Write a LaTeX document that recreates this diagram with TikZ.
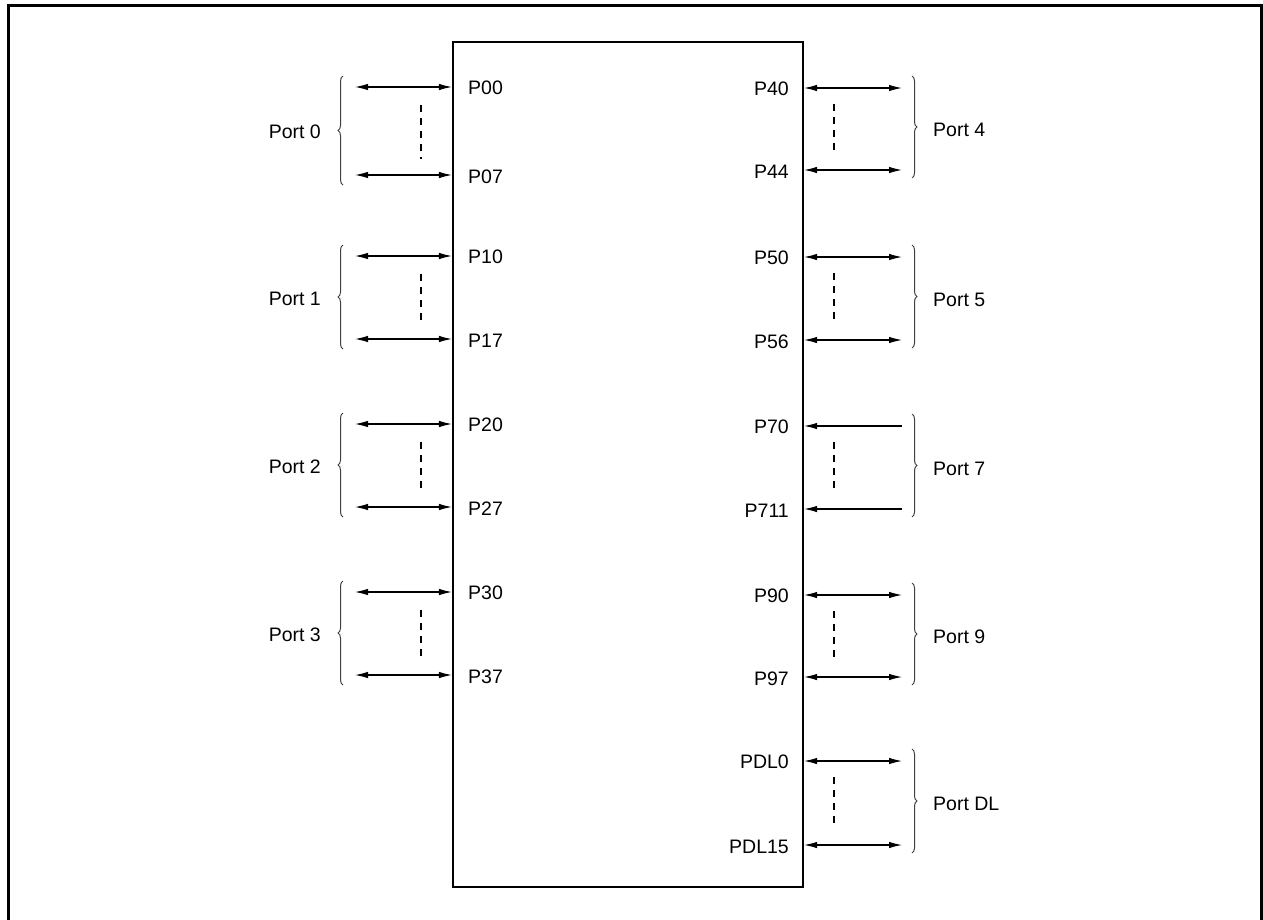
\documentclass[tikz,border=0pt]{standalone}
\usepackage{fontspec}
\setmainfont{Liberation Sans}
\usetikzlibrary{arrows.meta,decorations.pathreplacing}
\begin{document}
\begin{tikzpicture}[x=1pt,y=-1pt,
  pinlabel/.style={font=\fontsize{19.5}{22}\selectfont, inner sep=0pt},
  portlabel/.style={font=\fontsize{19.5}{22}\selectfont, inner sep=0pt},
  biarrow/.style={line width=1.1pt, {Latex[length=13pt,width=6.5pt]}-{Latex[length=13pt,width=6.5pt]}},
  inarrow/.style={line width=1.1pt, -{Latex[length=13pt,width=6.5pt]}},
  dashline/.style={line width=1.1pt, dash pattern=on 7pt off 6pt},
  bracedeco/.style={draw=black!75, line width=1pt, decorate, decoration={brace, amplitude=5pt}},
  frameline/.style={line width=3pt},
  chipbox/.style={draw, line width=2.2pt, minimum width=350pt, minimum height=845pt, inner sep=0pt}]
\useasboundingbox (0,0) rectangle (1263,919);
% outer frame (bottom edge outside the picture)
\draw[frameline] (8.5,930) -- (8.5,5.5) -- (1261.5,5.5) -- (1261.5,930);
% chip
\node[chipbox] (chip) at (628,464.5) {};
% left ports
\foreach \n/\a/\b/\ta/\tb/\lab in {L0/87/175/P00/P07/Port 0, L1/256/339/P10/P17/Port 1, L2/424/507/P20/P27/Port 2, L3/592/675/P30/P37/Port 3}{
  \coordinate (\n oa) at (355,\a);
  \coordinate (\n ob) at (355,\b);
  \coordinate (\n ia) at (chip.west |- {(0,\a)});
  \coordinate (\n ib) at (chip.west |- {(0,\b)});
  \node[pinlabel, anchor=west] (\n ta) at (468,\a+1) {\ta};
  \node[pinlabel, anchor=west] (\n tb) at (468,\b+2) {\tb};
  \draw[biarrow] (\n oa) -- (\n ia);
  \draw[biarrow] (\n ob) -- (\n ib);
  \coordinate (\n da) at (421,\a+18);
  \coordinate (\n db) at (421,\b-16);
  \draw[dashline] (\n da) -- (\n db);
  \coordinate (\n bt) at (343,\a-11);
  \coordinate (\n bb) at (343,\b+10);
  \draw[bracedeco] (\n bb) -- (\n bt);
  \node[portlabel, anchor=east] (\n pl) at (321,{(\a+\b)/2+1}) {\lab};
}
% right ports (bidirectional)
\foreach \n/\a/\b/\ta/\tb/\lab in {R4/88/170/P40/P44/Port 4, R5/257/340/P50/P56/Port 5, R9/595/677/P90/P97/Port 9, RD/761/845/PDL0/PDL15/Port DL}{
  \coordinate (\n oa) at (902,\a);
  \coordinate (\n ob) at (902,\b);
  \coordinate (\n ia) at (chip.east |- {(0,\a)});
  \coordinate (\n ib) at (chip.east |- {(0,\b)});
  \node[pinlabel, anchor=east] (\n ta) at (789,\a+1) {\ta};
  \node[pinlabel, anchor=east] (\n tb) at (789,\b+2) {\tb};
  \draw[biarrow] (\n oa) -- (\n ia);
  \draw[biarrow] (\n ob) -- (\n ib);
  \coordinate (\n da) at (834,\a+16);
  \coordinate (\n db) at (834,\b-16);
  \draw[dashline] (\n da) -- (\n db);
  \coordinate (\n bt) at (912,\a-12);
  \coordinate (\n bb) at (912,\b+8);
  \draw[bracedeco] (\n bt) -- (\n bb);
  \node[portlabel, anchor=west] (\n pl) at (933,{(\a+\b)/2+1}) {\lab};
}
% port 7 (input only)
\foreach \n/\a/\b/\ta/\tb/\lab in {R7/426/509/P70/P711/Port 7}{
  \coordinate (\n oa) at (902,\a);
  \coordinate (\n ob) at (902,\b);
  \coordinate (\n ia) at (chip.east |- {(0,\a)});
  \coordinate (\n ib) at (chip.east |- {(0,\b)});
  \node[pinlabel, anchor=east] (\n ta) at (789,\a+1) {\ta};
  \node[pinlabel, anchor=east] (\n tb) at (789,\b+2) {\tb};
  \draw[inarrow] (\n oa) -- (\n ia);
  \draw[inarrow] (\n ob) -- (\n ib);
  \coordinate (\n da) at (834,\a+16);
  \coordinate (\n db) at (834,\b-16);
  \draw[dashline] (\n da) -- (\n db);
  \coordinate (\n bt) at (912,\a-12);
  \coordinate (\n bb) at (912,\b+8);
  \draw[bracedeco] (\n bt) -- (\n bb);
  \node[portlabel, anchor=west] (\n pl) at (933,{(\a+\b)/2+1}) {\lab};
}
\end{tikzpicture}
\end{document}
